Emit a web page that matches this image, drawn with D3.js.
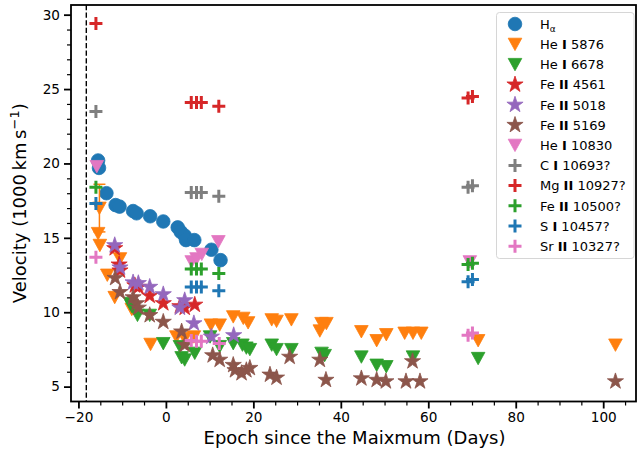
<!DOCTYPE html>
<html>
<head>
<meta charset="utf-8">
<script src="https://cdn.jsdelivr.net/npm/d3@7/dist/d3.min.js"></script>
<style>
  html, body { margin: 0; padding: 0; background: #fff; }
  svg { display: block; font-family: "DejaVu Sans", sans-serif; }
</style>
</head>
<body>
<svg id="chart" width="638" height="452"></svg>
<script>
// Line velocities (1000 km/s) against epoch since maximum (days)
const halpha = [[-15.5,20.2],[-15.3,19.7],[-13.6,18.0],[-11.5,17.2],[-10.6,17.1],[-7.5,16.8],[-6.7,16.65],[-3.6,16.45],[-0.6,16.1],[2.7,15.7],[3.4,15.4],[4.3,15.15],[4.6,14.85],[6.5,14.85],[10.4,14.2],[12.5,13.5]];
const he5876 = [[-15.2,17.0],[-15.5,15.3],[-15.1,14.5],[-13.4,12.5],[-10.5,13.6],[-11.7,11.0],[-7.8,10.2],[-3.5,7.85],[2.4,8.35],[4.3,8.25],[6.4,8.35],[10.3,9.15],[12.3,9.15],[15.4,9.7],[17.7,9.6],[18.8,9.3],[24.2,9.5],[25.3,9.4],[28.7,9.5],[35.2,8.75],[35.6,9.25],[36.7,9.25],[44.7,8.7],[48.2,8.1],[50.4,8.5],[54.6,8.6],[56.5,8.6],[58.4,8.6],[71.4,8.1],[102.8,7.8]];
const he5876Err = [[-15.2,17.0,1.6]];
const he6678 = [[-8.2,10.6],[-7.8,10.4],[-6.5,9.8],[-3.7,9.8],[-0.6,7.9],[3.2,7.7],[3.6,6.95],[4.3,6.8],[6.6,7.25],[10.1,8.35],[12.3,7.7],[15.4,7.9],[17.5,7.8],[18.4,7.6],[19.2,7.5],[24.2,7.8],[25.3,7.5],[28.7,7.5],[35.6,7.25],[36.3,7.1],[44.7,7.0],[48.2,6.45],[50.4,6.35],[56.5,7.0],[71.4,6.9]];
const fe4561 = [[-11.7,14.3],[-10.7,13.2],[-10.5,12.8],[-7.1,11.8],[-6.3,11.7],[-3.7,11.1],[-0.6,10.6],[3.2,10.4],[4.3,10.3],[6.6,10.5]];
const fe5018 = [[-11.7,14.5],[-10.5,13.0],[-7.5,12.0],[-6.3,11.95],[-3.7,11.7],[-0.6,11.2],[3.2,10.3],[4.3,10.8],[6.4,9.25],[10.4,8.35],[15.5,8.45]];
const fe5169 = [[-11.6,12.3],[-10.5,11.35],[-7.5,11.0],[-6.7,10.6],[-6.3,10.3],[-3.7,9.8],[-0.6,9.35],[3.6,8.7],[4.3,7.8],[10.7,7.1],[12.3,6.8],[15.4,6.45],[15.8,6.1],[17.3,5.9],[18.4,6.1],[19.2,6.25],[23.8,5.8],[25.3,5.6],[28.3,7.0],[35.2,6.8],[36.6,5.45],[44.7,5.55],[48.2,5.45],[50.3,5.35],[54.9,5.35],[56.4,6.7],[58.1,5.35],[102.8,5.35]];
const he10830 = [[-15.8,19.8],[5.9,13.4],[7.0,13.6],[8.2,13.9],[12.0,14.75],[69.5,13.4]];
const c10693 = [[-16.0,23.5],[5.8,18.05],[7.0,18.05],[8.1,18.05],[12.1,17.8],[69.1,18.4],[70.1,18.5]];
const mg10927 = [[-16.0,29.4],[5.8,24.1],[7.0,24.1],[8.1,24.1],[12.1,23.85],[69.1,24.4],[70.1,24.5]];
const fe10500 = [[-16.0,18.4],[5.8,12.9],[7.0,12.9],[8.1,12.9],[12.1,12.6],[69.1,13.2],[70.1,13.3]];
const s10457 = [[-16.0,17.3],[5.8,11.7],[7.0,11.7],[8.1,11.7],[12.1,11.45],[69.1,12.05],[70.1,12.2]];
const sr10327 = [[-16.0,13.7],[5.8,8.1],[7.0,8.05],[8.1,8.05],[12.2,7.9],[69.1,8.45],[70.1,8.6]];

const explosionEpoch = -18.2;
const xTicks = [-20, 0, 20, 40, 60, 80, 100];
const yTicks = [5, 10, 15, 20, 25, 30];
const xLabel = "Epoch since the Maixmum (Days)";

const series = [
  { name: ["H", "α", null],        data: halpha,  color: "#1f77b4", marker: "circle" },
  { name: ["He ", "I", " 5876"],   data: he5876,  color: "#ff7f0e", marker: "tri" },
  { name: ["He ", "I", " 6678"],   data: he6678,  color: "#2ca02c", marker: "tri" },
  { name: ["Fe ", "II", " 4561"],  data: fe4561,  color: "#d62728", marker: "star" },
  { name: ["Fe ", "II", " 5018"],  data: fe5018,  color: "#9467bd", marker: "star" },
  { name: ["Fe ", "II", " 5169"],  data: fe5169,  color: "#8c564b", marker: "star" },
  { name: ["He ", "I", " 10830"],  data: he10830, color: "#e377c2", marker: "tri" },
  { name: ["C ", "I", " 10693?"],  data: c10693,  color: "#7f7f7f", marker: "plus" },
  { name: ["Mg ", "II", " 10927?"],data: mg10927, color: "#d62728", marker: "plus" },
  { name: ["Fe ", "II", " 10500?"],data: fe10500, color: "#2ca02c", marker: "plus" },
  { name: ["S ", "I", " 10457?"],  data: s10457,  color: "#1f77b4", marker: "plus" },
  { name: ["Sr ", "II", " 10327?"],data: sr10327, color: "#e377c2", marker: "plus" }
];

const svg = d3.select("#chart");
const L = 71, R = 636, T = 5, B = 401.5;

const x = d3.scaleLinear().domain([-21.7, 107.5]).range([L, R]);
const y = d3.scaleLinear().domain([4.0, 30.65]).range([B, T]);

// marker path generators
function markerPath(type) {
  if (type === "circle") return d3.symbol(d3.symbolCircle, Math.PI * 6.8 * 6.8)();
  if (type === "tri") return "M-6.8,-6L6.8,-6L0,6.4Z";
  if (type === "star") {
    const Ro = 8.5, Ri = Ro * 0.382;
    const pts = [];
    for (let i = 0; i < 10; i++) {
      const a = -Math.PI / 2 + i * Math.PI / 5;
      const r = i % 2 === 0 ? Ro : Ri;
      pts.push([r * Math.cos(a), r * Math.sin(a)]);
    }
    return "M" + pts.map(p => p[0].toFixed(2) + "," + p[1].toFixed(2)).join("L") + "Z";
  }
  return "M-6.5,0H6.5M0,-6.5V6.5";
}
function styleMarker(sel, s) {
  if (s.marker === "plus") {
    sel.attr("fill", "none").attr("stroke", s.color).attr("stroke-width", 3);
  } else {
    sel.attr("fill", s.color).attr("stroke", s.color).attr("stroke-width", 0.8);
  }
}

// dashed line marking the explosion epoch
svg.append("line")
  .attr("x1", x(explosionEpoch)).attr("x2", x(explosionEpoch))
  .attr("y1", T).attr("y2", B)
  .attr("stroke", "#000").attr("stroke-width", 1.4)
  .attr("stroke-dasharray", "5.2,2.4");

const plot = svg.append("g");

series.forEach((s, i) => {
  const g = plot.append("g");
  if (i === 1) {
    // error bar on the earliest He I 5876 measurement
    he5876Err.forEach(d => {
      g.append("line")
        .attr("x1", x(d[0])).attr("x2", x(d[0]))
        .attr("y1", y(d[1] - d[2])).attr("y2", y(d[1] + d[2]))
        .attr("stroke", s.color).attr("stroke-width", 1.5);
      [d[1] - d[2], d[1] + d[2]].forEach(v => {
        g.append("line")
          .attr("x1", x(d[0]) - 6).attr("x2", x(d[0]) + 6)
          .attr("y1", y(v)).attr("y2", y(v))
          .attr("stroke", s.color).attr("stroke-width", 1.5);
      });
    });
  }
  const p = g.selectAll("path").data(s.data).join("path")
    .attr("d", markerPath(s.marker))
    .attr("transform", d => `translate(${x(d[0])},${y(d[1])})`);
  styleMarker(p, s);
});

// axes
const fontSize = 13.6;
const xMajor = d3.axisBottom(x).tickValues(xTicks).tickSize(7).tickPadding(4).tickSizeOuter(0)
  .tickFormat(d => d < 0 ? "\u2212" + Math.abs(d) : d);
const xMinor = d3.axisBottom(x).tickValues(d3.range(-20, 106, 5).filter(v => v % 20 !== 0))
  .tickSize(4).tickFormat("").tickSizeOuter(0);
const yMajor = d3.axisLeft(y).tickValues(yTicks).tickSize(7).tickPadding(4).tickSizeOuter(0);
const yMinor = d3.axisLeft(y).tickValues(d3.range(5, 31, 1).filter(v => v % 5 !== 0))
  .tickSize(4).tickFormat("").tickSizeOuter(0);

function styleAxis(g, w) {
  g.select(".domain").remove();
  g.selectAll(".tick line").attr("stroke", "#000").attr("stroke-width", w);
  g.selectAll(".tick text").attr("fill", "#000").style("font-size", fontSize + "px")
    .style("font-family", "'DejaVu Sans', sans-serif");
}
svg.append("g").attr("transform", `translate(0,${B})`).call(xMinor).call(g => styleAxis(g, 1.2));
svg.append("g").attr("transform", `translate(0,${B})`).call(xMajor).call(g => styleAxis(g, 1.8));
svg.append("g").attr("transform", `translate(${L},0)`).call(yMinor).call(g => styleAxis(g, 1.2));
svg.append("g").attr("transform", `translate(${L},0)`).call(yMajor).call(g => styleAxis(g, 1.8));

// frame
svg.append("rect").attr("x", L).attr("y", T).attr("width", R - L).attr("height", B - T)
  .attr("fill", "none").attr("stroke", "#000").attr("stroke-width", 1.8);

// axis labels
svg.append("text")
  .attr("x", (L + R) / 2 + 1).attr("y", 444)
  .attr("text-anchor", "middle").style("font-size", "18px")
  .text(xLabel);

const yl = svg.append("text")
  .attr("transform", `translate(26,${(T + B) / 2}) rotate(-90)`)
  .attr("text-anchor", "middle").style("font-size", "18px");
yl.append("tspan").text("Velocity (1000\u2009km\u2009s");
yl.append("tspan").attr("dy", -7.5).style("font-size", "13px").text("\u22121");
yl.append("tspan").attr("dy", 7.5).text(")");

// legend
const lg = svg.append("g");
lg.append("rect").attr("x", 496.5).attr("y", 12.5).attr("width", 137.5).attr("height", 246)
  .attr("rx", 3).attr("fill", "#fff").attr("fill-opacity", 0.8)
  .attr("stroke", "#d6d6d6").attr("stroke-width", 1);
series.forEach((s, i) => {
  const ry = 24 + i * 20.2;
  const m = lg.append("path").attr("d", markerPath(s.marker))
    .attr("transform", `translate(515,${ry})`);
  styleMarker(m, s);
  const t = lg.append("text").attr("x", 540).attr("y", ry + 4.7).style("font-size", "13px");
  if (s.name[2] === null) {
    t.append("tspan").text(s.name[0]);
    t.append("tspan").attr("dy", 3).style("font-size", "9px").text(s.name[1]);
  } else {
    t.append("tspan").text(s.name[0]);
    t.append("tspan").style("font-weight", "bold").text(s.name[1]);
    t.append("tspan").text(s.name[2]);
  }
});
</script>
</body>
</html>
